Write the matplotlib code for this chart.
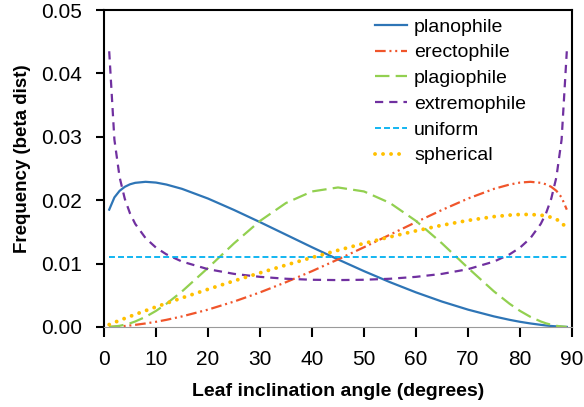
import matplotlib
matplotlib.use("Agg")
import matplotlib.pyplot as plt
from matplotlib.ticker import FormatStrFormatter, MultipleLocator

plt.rcParams["font.family"] = ["Liberation Sans", "DejaVu Sans"]

# Leaf inclination angle (degrees)
angles = [1, 2, 3, 4, 5, 6, 8, 10, 12, 15, 20, 25, 30, 35, 40, 45,
          50, 55, 60, 65, 70, 75, 78, 80, 82, 84, 85, 86, 87, 88, 89]

planophile = [0.01851, 0.02044, 0.02148, 0.02211, 0.02251, 0.02274, 0.02290,
              0.02278, 0.02247, 0.02179, 0.02026, 0.01846, 0.01654, 0.01456,
              0.01258, 0.01066, 0.00881, 0.00707, 0.00546, 0.00401, 0.00274,
              0.00167, 0.00113, 0.00082, 0.00056, 0.00034, 0.00024, 0.00016,
              0.00010, 0.00005, 0.00001]

erectophile = [0.00001, 0.00005, 0.00010, 0.00016, 0.00024, 0.00034, 0.00056,
               0.00082, 0.00113, 0.00167, 0.00274, 0.00401, 0.00546, 0.00707,
               0.00881, 0.01066, 0.01258, 0.01456, 0.01654, 0.01846, 0.02026,
               0.02179, 0.02247, 0.02278, 0.02290, 0.02274, 0.02251, 0.02211,
               0.02148, 0.02044, 0.01851]

plagiophile = [0.00002, 0.00008, 0.00019, 0.00036, 0.00058, 0.00087, 0.00160,
               0.00254, 0.00366, 0.00561, 0.00932, 0.01319, 0.01673, 0.01956,
               0.02138, 0.02201, 0.02138, 0.01956, 0.01673, 0.01319, 0.00932,
               0.00561, 0.00366, 0.00254, 0.00160, 0.00087, 0.00058, 0.00036,
               0.00019, 0.00008, 0.00002]

extremophile = [0.04349, 0.02955, 0.02363, 0.02021, 0.01792, 0.01627, 0.01401,
                0.01252, 0.01146, 0.01032, 0.00912, 0.00838, 0.00791, 0.00761,
                0.00745, 0.00740, 0.00745, 0.00761, 0.00791, 0.00838, 0.00912,
                0.01032, 0.01146, 0.01252, 0.01401, 0.01627, 0.01792, 0.02021,
                0.02363, 0.02955, 0.04349]

uniform_angles = [1, 89]
uniform = [0.01111, 0.01111]

spherical = [0.00038, 0.00072, 0.00104, 0.00136, 0.00167, 0.00198, 0.00258,
             0.00317, 0.00374, 0.00459, 0.00595, 0.00727, 0.00854, 0.00977,
             0.01096, 0.01210, 0.01319, 0.01421, 0.01517, 0.01605, 0.01681,
             0.01741, 0.01765, 0.01775, 0.01775, 0.01764, 0.01751, 0.01730,
             0.01699, 0.01648, 0.01553]

x_ticks = [0, 10, 20, 30, 40, 50, 60, 70, 80, 90]

fig = plt.figure(figsize=(5.84, 4.07), dpi=100)
ax = fig.add_axes([104 / 584, 80 / 407, 468 / 584, 317 / 407])

ax.plot(angles, planophile, color="#2E75B6", lw=1.6, label="planophile")
ax.plot(angles, erectophile, color="#F0552B", lw=1.6,
        dashes=(4.8, 1.7, 0.9, 1.7, 0.9, 1.7), label="erectophile")
ax.plot(angles, plagiophile, color="#92D050", lw=1.6,
        dashes=(6.5, 2.8), label="plagiophile")
ax.plot(angles, extremophile, color="#7030A0", lw=1.6,
        dashes=(3.7, 2.7), label="extremophile")
ax.plot(uniform_angles, uniform, color="#00B0F0", lw=1.3,
        dashes=(3.3, 1.7), label="uniform")
ax.plot(angles, spherical, color="#FFC000", lw=2.8,
        dashes=(0.01, 2.05), dash_capstyle="round", label="spherical")

ax.set_xlim(0, 90)
ax.set_ylim(0, 0.05)
ax.set_xticks(x_ticks)
ax.yaxis.set_major_locator(MultipleLocator(0.01))
ax.yaxis.set_major_formatter(FormatStrFormatter("%.2f"))

for side in ("left", "top", "right"):
    ax.spines[side].set_linewidth(1.5)
    ax.spines[side].set_color("black")
ax.spines["bottom"].set_linewidth(0.8)
ax.spines["bottom"].set_color("#9a9a9a")

ax.tick_params(axis="y", direction="out", length=6, width=1.5,
               labelsize=15, pad=10)
ax.tick_params(axis="x", direction="out", length=7.5, width=1.5,
               labelsize=15, pad=9)

ax.set_xlabel("Leaf inclination angle (degrees)", fontsize=14,
              fontweight="bold", va="center")
ax.xaxis.set_label_coords(0.5, (327 - 391.7) / 317)
ax.set_ylabel("Frequency (beta dist)", fontsize=13.5, fontweight="bold",
              va="center", ha="center")
ax.yaxis.set_label_coords((23 - 104) / 468, (327 - 158.5) / 317)

leg = ax.legend(loc="upper left", bbox_to_anchor=(375 / 584, 1 - 18 / 407),
                bbox_transform=fig.transFigure, frameon=False, fontsize=14,
                handlelength=1.65, handletextpad=0.36, labelspacing=0.42,
                borderpad=0, borderaxespad=0)

fig.savefig("out.png", dpi=100)
